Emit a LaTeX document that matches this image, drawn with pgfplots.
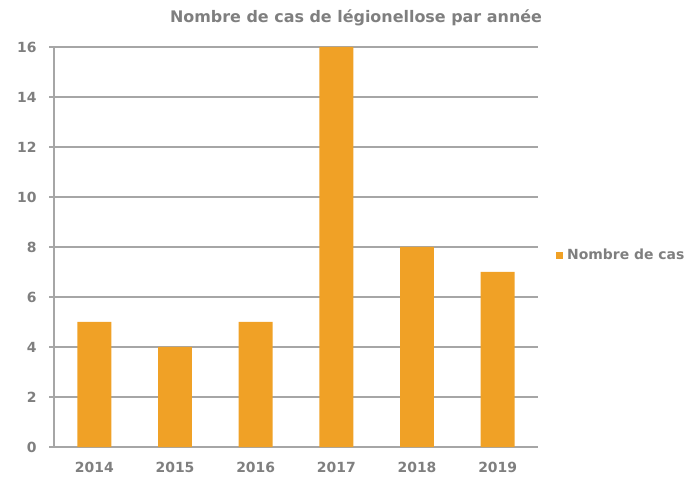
\documentclass[border=0pt]{standalone}
\usepackage{fontspec}
\setmainfont{DejaVu Sans}
\usepackage{pgfplots}
\pgfplotsset{compat=1.18}
\definecolor{barc}{HTML}{F0A126}
\definecolor{txt}{HTML}{7F7F7F}
\definecolor{gridc}{HTML}{A6A6A6}
\begin{document}
\begin{tikzpicture}
\useasboundingbox (0,0) rectangle (692bp,483bp);
\node[text=txt, font=\bfseries\fontsize{16}{18}\selectfont, anchor=base] at (356bp,460bp) {Nombre de cas de légionellose par année};
\begin{axis}[
  at={(54bp,36bp)}, anchor=south west,
  scale only axis, width=484bp, height=400bp,
  xmin=-0.5, xmax=5.5, ymin=0, ymax=16,
  ytick={0,2,...,16},
  xtick={0,...,5},
  xticklabels={2014,2015,2016,2017,2018,2019},
  major x tick style={draw=none},
  extra x ticks={-0.5,0.5,1.5,2.5,3.5,4.5,5.5},
  extra x tick labels={},
  extra x tick style={major tick length=6bp, tick align=outside, grid=none, major tick style={draw=gridc, line width=1.5bp}},
  axis x line*=bottom, axis y line*=left,
  axis line style={draw=gridc, line width=1.5bp, -},
  ymajorgrids, grid style={draw=gridc, line width=1.5bp},
  y tick style={draw=gridc, line width=1.5bp},
  tick align=outside, major tick length=5bp,
  tick label style={font=\bfseries\fontsize{14}{16}\selectfont, text=txt},
  /pgf/number format/assume math mode=true,
  yticklabel style={xshift=-9bp},
  xticklabel style={yshift=-7bp},
  legend style={at={(axis description cs:1.0,0.48)}, anchor=west, xshift=18bp, draw=none, fill=none, inner sep=0pt, font=\bfseries\fontsize{14}{16}\selectfont, text=txt},
  ybar, bar width=0.42,
]
\addplot[fill=barc, draw=none, legend image code/.code={\fill[barc] (0bp,-4bp) rectangle (7bp,3bp);}] coordinates {(0,5) (1,4) (2,5) (3,16) (4,8) (5,7)};
\addlegendentry{\hspace{2bp}Nombre de cas}
\end{axis}
\end{tikzpicture}
\end{document}
